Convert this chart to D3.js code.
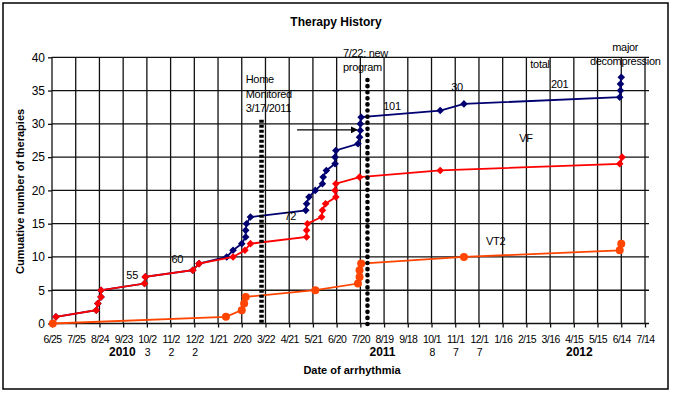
<!DOCTYPE html>
<html>
<head>
<meta charset="UTF-8">
<title>Therapy History</title>
<style>
  body { margin: 0; background: #fff; }
  svg { display: block; font-family: "Liberation Sans", Arial, sans-serif; }
  .tick line { stroke: #111; stroke-width: 1.3; }
  .domain { display: none; }
</style>
</head>
<body>
<svg></svg>
<script src="https://d3js.org/d3.v7.min.js"></script>
<script>

const width = 673, height = 393;
const parse = d3.timeParse("%Y-%m-%d");

// cumulative therapies (navy = total, red = VF, orange = VT2)
const totalDates = ["2010-06-30","2010-08-20","2010-08-22","2010-08-26","2010-08-26","2010-10-20","2010-10-21",
  "2010-12-20","2010-12-28","2011-02-01","2011-02-09","2011-02-20","2011-02-25","2011-02-25","2011-02-26",
  "2011-03-03","2011-05-12","2011-05-13","2011-05-16","2011-05-24","2011-06-02","2011-06-03","2011-06-07",
  "2011-06-18","2011-06-18","2011-06-19","2011-07-17","2011-07-19","2011-07-20","2011-07-20","2011-07-21",
  "2011-10-29","2011-11-28","2012-06-12","2012-06-13","2012-06-13","2012-06-14"];
const totalValues = d3.range(1, 38);

const vfDates = ["2010-06-30","2010-08-20","2010-08-22","2010-08-26","2010-08-26","2010-10-20","2010-10-21",
  "2010-12-20","2010-12-28","2011-02-09","2011-02-24","2011-03-03","2011-05-13","2011-05-13","2011-05-14",
  "2011-06-01","2011-06-02","2011-06-06","2011-06-19","2011-06-18","2011-06-19","2011-07-19","2011-10-29",
  "2012-06-12","2012-06-15"];
const vfValues = d3.range(1, 26);

const vt2Dates = ["2010-06-26","2011-01-31","2011-02-20","2011-02-23","2011-02-25","2011-05-24","2011-07-17",
  "2011-07-19","2011-07-19","2011-07-21","2011-11-28","2012-06-12","2012-06-14"];
const vt2Values = d3.range(0, 13);

// axes
const xStart = "2010-06-25", xEnd = "2012-07-14";
const xTickLabels = ["6/25","7/25","8/24","9/23","10/2\n3","11/2\n2","12/2\n2","1/21","2/20","3/22","4/21","5/21",
  "6/20","7/20","8/19","9/18","10/1\n8","11/1\n7","12/1\n7","1/16","2/15","3/16","4/15","5/15","6/14","7/14"];
const yTicks = [0, 5, 10, 15, 20, 25, 30, 35, 40];
const yearNames = ["2010", "2011", "2012"];
const yearDates = ["2010-09-22", "2011-08-17", "2012-04-22"];

// annotations
const annoText  = ["Home","Monitored","3/17/2011","7/22: new","program","101","30","total","201",
  "major","decompression","VF","VT2","72","60","55"];
const annoDate  = ["2011-02-25","2011-02-25","2011-02-25","2011-06-28","2011-06-28","2011-08-18","2011-11-12",
  "2012-02-20","2012-03-17","2012-06-19","2012-06-19","2012-02-06","2011-12-26","2011-04-15","2010-11-23","2010-09-27"];
const annoValue = [36.1, 33.9, 31.8, 40.1, 37.9, 32.1, 34.9, 38.4, 35.4, 41.0, 38.9, 27.3, 11.8, 15.6, 9.1, 6.7];
const annoAnchor = ["start","start","start","start","start","start","start","start","start",
  "middle","middle","start","start","start","start","start"];

const homeLine = {date: "2011-03-17", from: 0, to: 30.6};
const programLine = {date: "2011-07-29", from: -0.5, to: 36.6};
const arrow = {from: "2011-05-01", to: "2011-07-16", value: 29.1};

let svg = d3.select("svg")
    .attr("width", width)
    .attr("height", height);

let x = d3.scaleTime()
    .domain([parse(xStart), parse(xEnd)])
    .range([52, 645]);

let y = d3.scaleLinear()
    .domain([0, 40])
    .range([323.5, 57.3]);

let tickDates = xTickLabels.map((d, i) => d3.timeDay.offset(parse(xStart), i * 30));

// frame
svg.append("rect")
    .attr("x", 3).attr("y", 3)
    .attr("width", 665).attr("height", 386)
    .attr("fill", "none")
    .attr("stroke", "#000")
    .attr("stroke-width", 1.5);

svg.append("text")
    .attr("x", 336).attr("y", 26)
    .attr("text-anchor", "middle")
    .attr("font-weight", "bold")
    .attr("font-size", 12)
    .text("Therapy History");

// grid
let grid = svg.append("g").attr("stroke", "#111").attr("stroke-width", 1.3);
grid.selectAll("line.v")
    .data(tickDates)
    .enter().append("line")
    .attr("x1", d => x(d)).attr("x2", d => x(d))
    .attr("y1", y(40)).attr("y2", y(0));
grid.selectAll("line.h")
    .data(yTicks)
    .enter().append("line")
    .attr("x1", x.range()[0]).attr("x2", x.range()[1] + 4)
    .attr("y1", d => y(d)).attr("y2", d => y(d));

// y axis
svg.append("g")
    .attr("transform", "translate(" + x.range()[0] + ",0)")
    .call(d3.axisLeft(y).tickValues(yTicks).tickSize(4).tickPadding(3))
    .call(g => g.selectAll("text").attr("font-size", 12).attr("fill", "#000")
        .attr("font-family", "Liberation Sans, Arial, sans-serif"));

// x axis
let xAxis = svg.append("g")
    .attr("transform", "translate(0," + y(0) + ")")
    .call(d3.axisBottom(x).tickValues(tickDates).tickSize(4)
        .tickFormat((d, i) => xTickLabels[i]));

xAxis.selectAll("text").each(function(d, i) {
    let t = d3.select(this);
    let parts = xTickLabels[i].split("\n");
    t.text(null)
     .attr("y", 0).attr("dy", null)
     .attr("font-size", 10.5)
     .attr("letter-spacing", -0.6)
     .attr("fill", "#000")
     .attr("font-family", "Liberation Sans, Arial, sans-serif");
    parts.forEach((p, k) => {
        t.append("tspan").attr("x", 0).attr("y", 19 + k * 13).text(p);
    });
});

svg.selectAll("text.year")
    .data(yearNames)
    .enter().append("text")
    .attr("x", (d, i) => x(parse(yearDates[i])))
    .attr("y", 356)
    .attr("text-anchor", "middle")
    .attr("font-weight", "bold")
    .attr("font-size", 12)
    .text(d => d);

svg.append("text")
    .attr("x", 352).attr("y", 374)
    .attr("text-anchor", "middle")
    .attr("font-weight", "bold")
    .attr("font-size", 11)
    .text("Date of arrhythmia");

svg.append("text")
    .attr("transform", "translate(24," + ((y(0) + y(40)) / 2 + 1) + ") rotate(-90)")
    .attr("text-anchor", "middle")
    .attr("font-weight", "bold")
    .attr("font-size", 11)
    .text("Cumuative number of therapies");

// series
function toPoints(dates, values) {
    return dates.map((d, i) => ({date: parse(d), value: values[i]}));
}

let line = d3.line().x(d => x(d.date)).y(d => y(d.value));
let diamond = "M0,-3.8L3.8,0L0,3.8L-3.8,0Z";

let series = [
    {pts: toPoints(totalDates, totalValues), color: "#000070", shape: "diamond"},
    {pts: toPoints(vfDates, vfValues), color: "#ff0000", shape: "diamond"},
    {pts: toPoints(vt2Dates, vt2Values), color: "#ff4500", shape: "circle"}
];

series.forEach(s => {
    let g = svg.append("g");
    g.append("path")
        .datum(s.pts)
        .attr("d", line)
        .attr("fill", "none")
        .attr("stroke", s.color)
        .attr("stroke-width", 1.8);
    if (s.shape === "diamond") {
        g.selectAll("path.m")
            .data(s.pts)
            .enter().append("path")
            .attr("d", diamond)
            .attr("transform", d => "translate(" + x(d.date) + "," + y(d.value) + ")")
            .attr("fill", s.color);
    } else {
        g.selectAll("circle")
            .data(s.pts)
            .enter().append("circle")
            .attr("cx", d => x(d.date))
            .attr("cy", d => y(d.value))
            .attr("r", 4)
            .attr("fill", s.color);
    }
});

// dotted markers
svg.append("line")
    .attr("x1", x(parse(homeLine.date))).attr("x2", x(parse(homeLine.date)))
    .attr("y1", y(homeLine.to)).attr("y2", y(homeLine.from))
    .attr("stroke", "#000")
    .attr("stroke-width", 4.5)
    .attr("stroke-dasharray", "3,2");

svg.append("line")
    .attr("x1", x(parse(programLine.date))).attr("x2", x(parse(programLine.date)))
    .attr("y1", y(programLine.to)).attr("y2", y(programLine.from))
    .attr("stroke", "#000")
    .attr("stroke-width", 4.6)
    .attr("stroke-linecap", "round")
    .attr("stroke-dasharray", "0.1,6");

// arrow
svg.append("defs").append("marker")
    .attr("id", "head")
    .attr("viewBox", "0 0 10 10")
    .attr("refX", 9).attr("refY", 5)
    .attr("markerWidth", 5).attr("markerHeight", 5)
    .attr("orient", "auto")
    .append("path")
    .attr("d", "M0,0L10,5L0,10Z")
    .attr("fill", "#000");

svg.append("line")
    .attr("x1", x(parse(arrow.from))).attr("x2", x(parse(arrow.to)))
    .attr("y1", y(arrow.value)).attr("y2", y(arrow.value))
    .attr("stroke", "#000")
    .attr("stroke-width", 1.4)
    .attr("marker-end", "url(#head)");

// labels
svg.selectAll("text.anno")
    .data(annoText)
    .enter().append("text")
    .attr("x", (d, i) => x(parse(annoDate[i])))
    .attr("y", (d, i) => y(annoValue[i]))
    .attr("text-anchor", (d, i) => annoAnchor[i])
    .attr("font-size", 11)
    .attr("letter-spacing", -0.3)
    .text(d => d);

</script>
</body>
</html>
